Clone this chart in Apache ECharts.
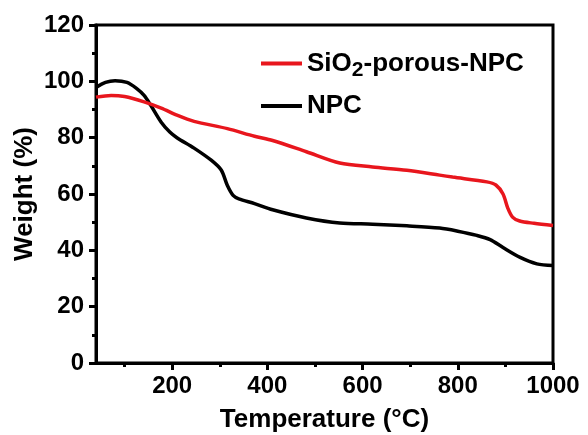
<!DOCTYPE html>
<html>
<head>
<meta charset="utf-8">
<script src="https://cdn.jsdelivr.net/npm/echarts@6/dist/echarts.min.js"></script>
<style>
html,body{margin:0;padding:0;background:#fff;}
#c{width:588px;height:435px;}
</style>
</head>
<body>
<div id="c"></div>
<script>
const seriesNames = ['SiO2-porous-NPC', 'NPC'];
const xMajorTicks = [200, 400, 600, 800, 1000];
const xMinorTicks = [100, 300, 500, 700, 900];

const tempSiO2 = [40, 72, 100, 141, 177, 210, 246, 316, 373, 411, 482, 552, 621, 693, 762, 789, 861, 880, 895, 905, 915, 930, 960, 1000];
const weightSiO2 = [94.4, 95, 94.6, 92.7, 90.5, 88, 85.8, 83.2, 80.5, 79, 75, 71, 69.6, 68.4, 66.7, 66, 64.3, 63.2, 60, 55, 51.8, 50.4, 49.6, 48.8];

const tempNPC = [40, 60, 80, 105, 125, 141, 155, 177, 195, 210, 246, 282, 303, 316, 328, 340, 373, 411, 482, 552, 621, 693, 762, 800, 840, 868, 895, 931, 966, 1000];
const weightNPC = [97.8, 99.6, 100.2, 99.6, 97.5, 95, 91.5, 85.5, 82, 80, 76.3, 72, 68.5, 63, 59.5, 58.3, 56.6, 54.4, 51.5, 49.7, 49.3, 48.7, 47.9, 46.8, 45.3, 43.8, 41, 37.5, 35.2, 34.6];

const pairs = (xs, ys) => xs.map((x, i) => [x, ys[i]]);

const FONT = '"Liberation Sans", Arial, sans-serif';
const chart = echarts.init(document.getElementById('c'));
chart.setOption({
  animation: false,
  backgroundColor: '#fff',
  grid: { left: 96, right: 35, top: 25, bottom: 72, show: true, borderColor: '#000', borderWidth: 3,
    containLabel: false, outerBoundsMode: 'none' },
  legend: {
    orient: 'vertical',
    left: 256, top: 41,
    itemWidth: 41, itemHeight: 4, itemGap: 10,
    icon: 'rect',
    data: seriesNames,
    formatter: function (n) {
      if (n === 'SiO2-porous-NPC') return '{b|SiO}{s|2}{b|-porous-NPC}';
      return '{b|' + n + '}';
    },
    textStyle: {
      fontFamily: FONT, fontWeight: 'bold', fontSize: 26, color: '#000', lineHeight: 30,
      rich: {
        b: { fontFamily: FONT, fontWeight: 'bold', fontSize: 26, color: '#000', lineHeight: 30 },
        s: { fontFamily: FONT, fontWeight: 'bold', fontSize: 21, color: '#000', lineHeight: 30, padding: [14, 0, 0, 0] }
      }
    }
  },
  xAxis: [{
    type: 'value', min: 40, max: 1000, position: 'bottom',
    name: 'Temperature (\u00B0C)', nameLocation: 'middle', nameGap: 44, nameMoveOverlap: false,
    nameTextStyle: { fontFamily: FONT, fontWeight: 'bold', fontSize: 26, color: '#000' },
    axisLine: { lineStyle: { color: '#000', width: 3 } },
    axisTick: { show: true, length: 7, lineStyle: { color: '#000', width: 3 }, customValues: xMajorTicks },
    axisLabel: { fontFamily: FONT, fontWeight: 'bold', fontSize: 24, color: '#000', margin: 11,
      customValues: xMajorTicks, formatter: v => String(v) },
    splitLine: { show: false }
  }, {
    type: 'value', min: 40, max: 1000, position: 'bottom', gridIndex: 0, show: true,
    axisLine: { show: true, lineStyle: { color: '#000', width: 3 } },
    axisTick: { show: true, length: 4, lineStyle: { color: '#000', width: 3 }, customValues: xMinorTicks },
    axisLabel: { show: false },
    splitLine: { show: false }
  }],
  yAxis: {
    type: 'value', min: 0, max: 120, interval: 20,
    name: 'Weight (%)', nameLocation: 'middle', nameGap: 58, nameMoveOverlap: false,
    nameTextStyle: { fontFamily: FONT, fontWeight: 'bold', fontSize: 26, color: '#000' },
    axisLine: { show: true, lineStyle: { color: '#000', width: 3 } },
    axisTick: { show: true, length: 7, lineStyle: { color: '#000', width: 3 } },
    minorTick: { show: true, splitNumber: 2, length: 4, lineStyle: { color: '#000', width: 3 } },
    axisLabel: { fontFamily: FONT, fontWeight: 'bold', fontSize: 24, color: '#000', margin: 12 },
    splitLine: { show: false }
  },
  series: [{
    name: 'NPC', type: 'line', data: pairs(tempNPC, weightNPC),
    showSymbol: false, symbol: 'none', smooth: 0.3,
    lineStyle: { color: '#000', width: 3.5 }, itemStyle: { color: '#000' }
  }, {
    name: 'SiO2-porous-NPC', type: 'line', data: pairs(tempSiO2, weightSiO2),
    showSymbol: false, symbol: 'none', smooth: 0.3,
    lineStyle: { color: '#e8161d', width: 3.5 }, itemStyle: { color: '#e8161d' }
  }]
});
</script>
</body>
</html>
